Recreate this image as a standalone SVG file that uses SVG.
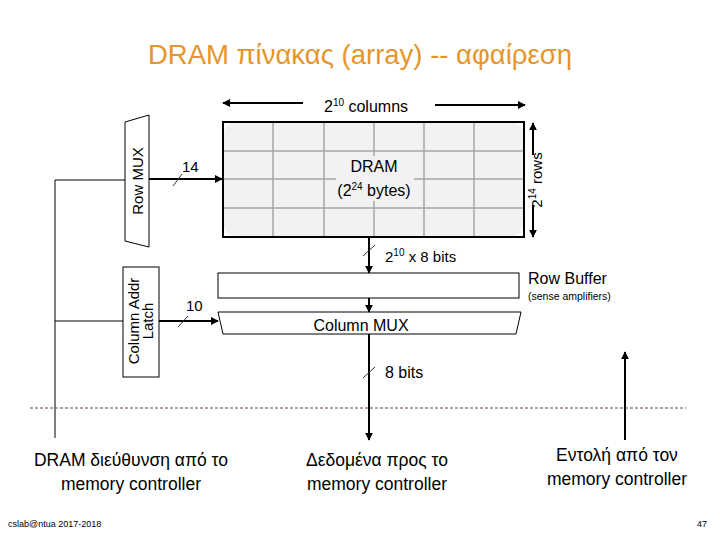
<svg xmlns="http://www.w3.org/2000/svg" width="720" height="540" viewBox="0 0 720 540">
<style>
text{font-family:"Liberation Sans","Noto Sans",sans-serif;fill:#000}
.t{font-size:15px}
.s{font-size:14px}
.big{font-size:16px}
.lab{font-size:17.5px}
.thin{stroke:#000;stroke-width:1;fill:none}
.thick{stroke:#000;stroke-width:2;fill:none}
.sl{stroke:#333;stroke-width:1}
.grid{stroke:#a6a6a6;stroke-width:1.5}
</style>
<defs>
<marker id="ah" viewBox="0 0 10 10" refX="9" refY="5" markerWidth="4" markerHeight="4" orient="auto-start-reverse">
<path d="M0,0 L10,5 L0,10 z" fill="#000"/>
</marker>
</defs>
<rect width="720" height="540" fill="#fff"/>
<text x="360" y="64" text-anchor="middle" style="font-size:27.5px;fill:#e6952c">DRAM πίνακας (array) -- αφαίρεση</text>

<g id="dram-array">
<rect x="223" y="122" width="301" height="115" fill="#fff" stroke="none"/>
<rect x="224" y="123" width="299" height="113" rx="10" fill="#f2f2f2"/>
<g class="grid">
<line x1="273" y1="123" x2="273" y2="236"/>
<line x1="324" y1="123" x2="324" y2="236"/>
<line x1="374" y1="123" x2="374" y2="236"/>
<line x1="424" y1="123" x2="424" y2="236"/>
<line x1="474" y1="123" x2="474" y2="236"/>
<line x1="224" y1="151" x2="523" y2="151"/>
<line x1="224" y1="179" x2="523" y2="179"/>
<line x1="224" y1="208" x2="523" y2="208"/>
</g>
<rect x="223" y="122" width="301" height="115" fill="none" stroke="#000" stroke-width="2"/>
<rect x="336" y="156" width="78" height="45" fill="#f2f2f2"/>
<text x="374" y="172" text-anchor="middle" class="big">DRAM</text>
<text x="374" y="196" text-anchor="middle" class="big">(2<tspan font-size="10" dy="-6">24</tspan><tspan dy="6"> bytes)</tspan></text>
</g>

<g id="row-mux">
<polygon points="125,122 149,115 149,247 125,241" fill="#fff" stroke="#000" stroke-width="1"/>
<text transform="translate(143,181) rotate(-90)" text-anchor="middle" class="t">Row MUX</text>
</g>

<g id="col-latch">
<rect x="123" y="267" width="36" height="110" fill="#fff" stroke="#000" stroke-width="1"/>
<text transform="translate(139,321) rotate(-90)" text-anchor="middle" class="t">Column Addr</text>
<text transform="translate(153,321) rotate(-90)" text-anchor="middle" class="t">Latch</text>
</g>

<g id="row-buffer">
<rect x="218" y="273" width="301" height="25" fill="#fff" stroke="#000" stroke-width="1"/>
<text x="528" y="284" style="font-size:16px">Row Buffer</text>
<text x="528" y="300" style="font-size:10.5px">(sense amplifiers)</text>
</g>

<g id="column-mux">
<polygon points="218,312 521,312 516,334 223,334" fill="#fff" stroke="#000" stroke-width="1"/>
<text x="361" y="331" text-anchor="middle" class="big">Column MUX</text>
</g>

<g id="connectors">
<polyline class="thin" points="125,180 55,180 55,438"/>
<line class="thin" x1="55" y1="321" x2="123" y2="321"/>
<line class="thick" x1="149" y1="179" x2="222" y2="179" marker-end="url(#ah)"/>
<line class="sl" x1="173" y1="186" x2="182" y2="174"/>
<text x="182" y="172" class="t">14</text>
<line class="thick" x1="159" y1="321" x2="218" y2="321" marker-end="url(#ah)"/>
<line class="sl" x1="178" y1="327" x2="188" y2="316"/>
<text x="186" y="311" class="t">10</text>
<line class="thick" x1="303" y1="103" x2="223" y2="103" marker-end="url(#ah)"/>
<line class="thick" x1="435" y1="105" x2="525" y2="105" marker-end="url(#ah)"/>
<text x="366" y="112" text-anchor="middle" class="big">2<tspan font-size="10" dy="-6">10</tspan><tspan dy="6"> columns</tspan></text>
<line class="thick" x1="533" y1="155" x2="533" y2="123" marker-end="url(#ah)"/>
<line class="thick" x1="533" y1="205" x2="533" y2="237" marker-end="url(#ah)"/>
<text transform="translate(542,180) rotate(-90)" text-anchor="middle" class="t">2<tspan font-size="10" dy="-6">14</tspan><tspan dy="6"> rows</tspan></text>
<line class="thick" x1="369" y1="237" x2="369" y2="273" marker-end="url(#ah)"/>
<line class="sl" x1="363" y1="256" x2="375" y2="245"/>
<text x="385" y="262" class="t">2<tspan font-size="10" dy="-6">10</tspan><tspan dy="6"> x 8 bits</tspan></text>
<line class="thick" x1="369" y1="298" x2="369" y2="312" marker-end="url(#ah)"/>
<line class="thick" x1="369" y1="334" x2="369" y2="440" marker-end="url(#ah)"/>
<line class="sl" x1="363" y1="378" x2="375" y2="367"/>
<text x="385" y="378" class="big">8 bits</text>
<line class="thick" x1="625" y1="440" x2="625" y2="352" marker-end="url(#ah)"/>
<line x1="30" y1="408" x2="686" y2="408" stroke="#6b4545" stroke-width="1" stroke-dasharray="3 2"/>
</g>

<g id="labels">
<text x="131" y="466" text-anchor="middle" class="lab">DRAM διεύθυνση από το</text>
<text x="131" y="490" text-anchor="middle" class="lab">memory controller</text>
<text x="377" y="466" text-anchor="middle" class="lab">Δεδομένα προς το</text>
<text x="377" y="490" text-anchor="middle" class="lab">memory controller</text>
<text x="617" y="461" text-anchor="middle" class="lab">Εντολή από τον</text>
<text x="617" y="485" text-anchor="middle" class="lab">memory controller</text>
<text x="8" y="527" style="font-size:9px">cslab@ntua 2017-2018</text>
<text x="707" y="527" text-anchor="end" style="font-size:9px">47</text>
</g>
</svg>
